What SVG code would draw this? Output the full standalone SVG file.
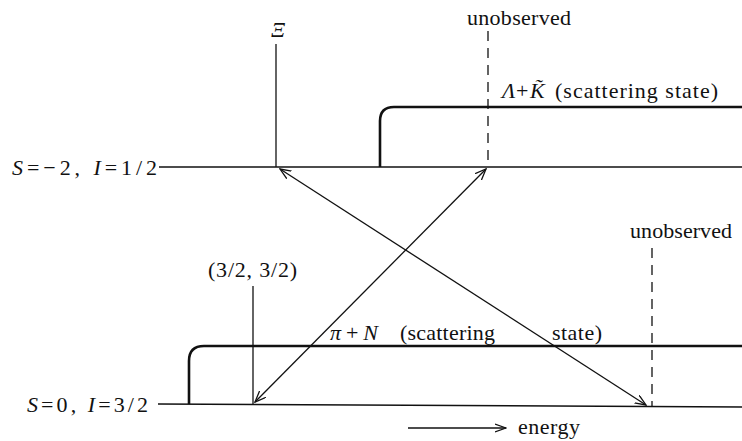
<svg xmlns="http://www.w3.org/2000/svg" width="742" height="441" viewBox="0 0 742 441">
<defs>
<style>
text{font-family:"Liberation Serif","Times New Roman",serif;fill:#111;font-size:22px}
.it{font-style:italic}
.lvl{stroke:#111;stroke-width:1.6;fill:none}
.sc{stroke:#111;stroke-width:2.6;fill:none}
.thin{stroke:#111;stroke-width:1.3;fill:none}
.dash{stroke:#111;stroke-width:1.3;fill:none;stroke-dasharray:10,7}
.arr{stroke:#111;stroke-width:1.3;fill:none;marker-start:url(#ah);marker-end:url(#ah)}
</style>
<marker id="ah" viewBox="0 0 12 10" refX="11" refY="5" markerWidth="12" markerHeight="10" markerUnits="userSpaceOnUse" orient="auto-start-reverse">
<path d="M0,0.5 L11,5 L0,9.5" fill="none" stroke="#111" stroke-width="1.3"/>
</marker>
<marker id="ah1" viewBox="0 0 12 10" refX="11" refY="5" markerWidth="12" markerHeight="10" markerUnits="userSpaceOnUse" orient="auto">
<path d="M0,1 L11,5 L0,9" fill="none" stroke="#111" stroke-width="1.3"/>
</marker>
</defs>

<g id="level-top">
<text x="12" y="175" textLength="145" lengthAdjust="spacing"><tspan class="it">S</tspan>=−2,  <tspan class="it">I</tspan>=1/2</text>
<line class="lvl" x1="159" y1="167" x2="742" y2="167"/>
</g>

<g id="xi">
<text x="271" y="37" class="it" font-size="18">Ξ</text>
<line class="thin" x1="276" y1="44" x2="276" y2="167"/>
</g>

<g id="unobserved-top">
<text x="467" y="25" textLength="104" lengthAdjust="spacing">unobserved</text>
<line class="dash" x1="488" y1="31" x2="488" y2="167"/>
</g>

<g id="lambda-k">
<path class="sc" d="M380,167 V121 Q380,107 394,107 H742"/>
<text x="502" y="98" class="it">Λ</text>
<text x="516" y="98">+</text>
<text x="530" y="98" class="it">K̃</text>
<text x="555" y="98" textLength="163" lengthAdjust="spacing">(scattering  state)</text>
</g>

<g id="level-bottom">
<text x="27" y="412" textLength="121" lengthAdjust="spacing"><tspan class="it">S</tspan>=0,  <tspan class="it">I</tspan>=3/2</text>
<line class="lvl" x1="158" y1="404" x2="742" y2="407"/>
</g>

<g id="res-3232">
<text x="208" y="277" textLength="89" lengthAdjust="spacing">(3/2,  3/2)</text>
<line class="thin" x1="253" y1="286" x2="253" y2="404"/>
</g>

<g id="pi-n">
<path class="sc" d="M189,404 V361 Q189,346 204,346 H742"/>
<text x="330" y="340" textLength="48" lengthAdjust="spacing"><tspan class="it">π</tspan> + <tspan class="it">N</tspan></text>
<text x="400" y="340" textLength="95" lengthAdjust="spacing">(scattering</text>
<text x="552" y="340" textLength="50" lengthAdjust="spacing">state)</text>
</g>

<g id="unobserved-bottom">
<text x="630" y="238" textLength="102" lengthAdjust="spacing">unobserved</text>
<line class="dash" x1="652" y1="248" x2="652" y2="406"/>
</g>

<g id="energy">
<line class="thin" x1="408" y1="428" x2="506" y2="428" marker-end="url(#ah1)"/>
<text x="518" y="434" textLength="62" lengthAdjust="spacing">energy</text>
</g>

<g id="connectors">
<line class="arr" x1="280" y1="169" x2="646" y2="405"/>
<line class="arr" x1="255" y1="402" x2="486" y2="169"/>
</g>
</svg>
